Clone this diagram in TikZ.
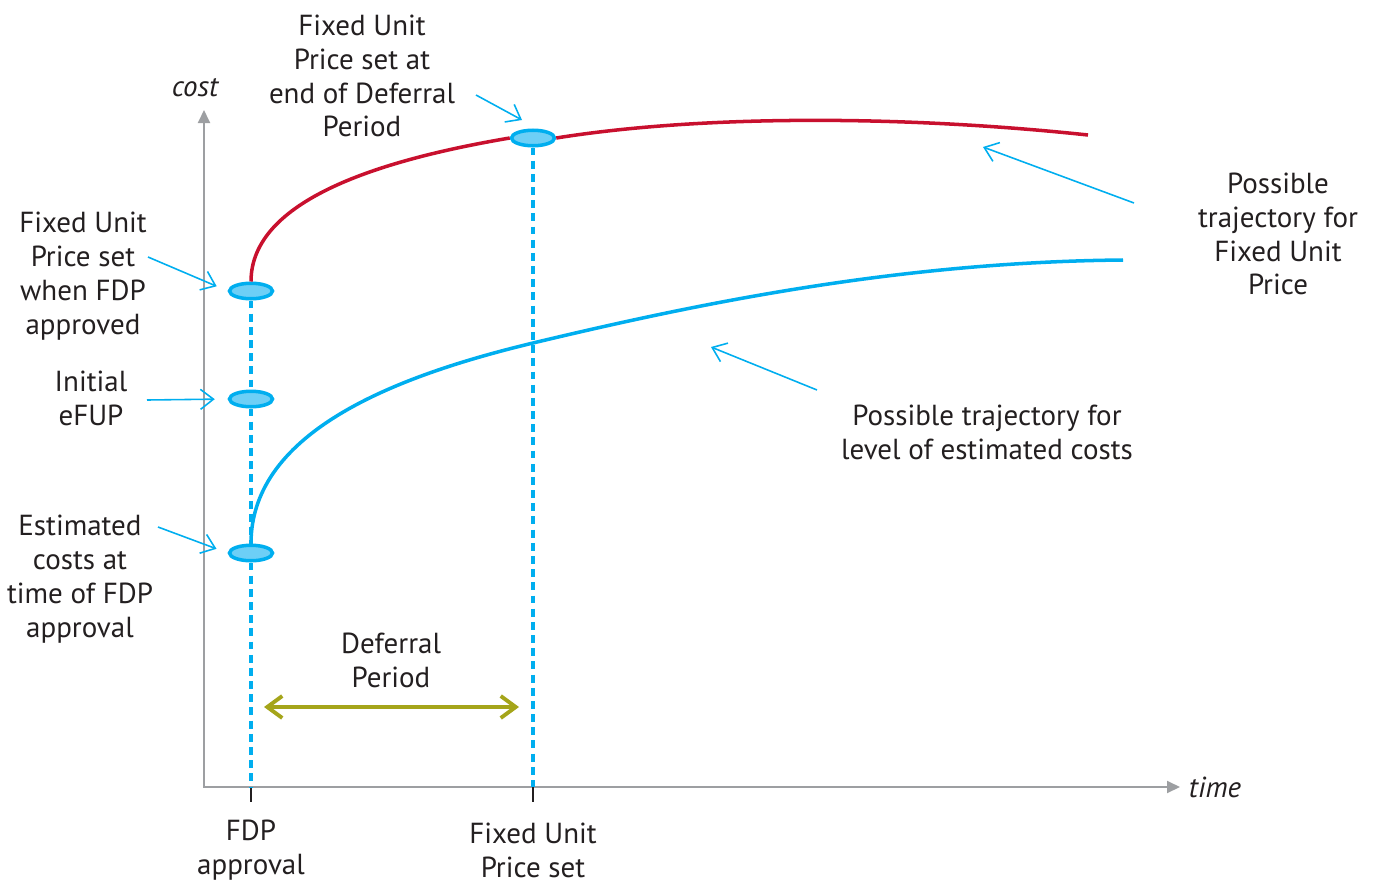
\documentclass[tikz,border=0pt]{standalone}
\usepackage{fontspec}
\setmainfont{PT Sans}
\usetikzlibrary{arrows.meta, shapes.geometric}

\definecolor{cyanline}{HTML}{00AEEF}
\definecolor{dotfill}{HTML}{6DCFF6}
\definecolor{redline}{HTML}{C8102E}
\definecolor{periodgreen}{HTML}{A5A51A}
\definecolor{axisgray}{HTML}{9D9FA2}
\definecolor{textgray}{HTML}{231F20}

\tikzset{
  txt/.style={align=center, text=textgray},
  dot/.style={ellipse, draw=cyanline, fill=dotfill, line width=2pt,
    minimum width=0.86cm, minimum height=0.31cm, inner sep=0},
  guide/.style={draw=cyanline, line width=2pt, dash pattern=on 4.5pt off 3pt},
  pointer/.style={draw=cyanline, line width=0.9pt,
    -{Straight Barb[length=0.26cm, width=0.4cm]}},
  axis/.style={draw=axisgray, line width=1.1pt,
    {Triangle[length=0.26cm, width=0.24cm]}-{Triangle[length=0.26cm, width=0.24cm]}},
  trend/.style={line width=2pt}
}

\begin{document}
\begin{tikzpicture}[x=0.02cm, y=-0.02cm, font=\fontsize{16.5}{19.3}\selectfont]
  \useasboundingbox (0,0) rectangle (1377,883);

  % axes
  \coordinate (origin) at (204,787);
  \coordinate (ytop) at (204,110);
  \coordinate (xend) at (1180,787);
  \draw[axis] (ytop) -- (origin) -- (xend);
  \node[txt, font=\fontsize{16.5}{19.3}\selectfont\itshape] (costlbl) at (195,88) {cost};
  \node[txt, font=\fontsize{16.5}{19.3}\selectfont\itshape] (timelbl) at (1215,787) {time};

  % ticks
  \coordinate (fdptick) at (251,787);
  \coordinate (fuptick) at (533,787);
  \draw[textgray, line width=0.8pt] (fdptick) -- ++(0,15);
  \draw[textgray, line width=0.8pt] (fuptick) -- ++(0,15);
  \node[txt] (fdpax) at (251,850) {FDP\\approval};
  \node[txt] (fupax) at (533,850) {Fixed Unit\\Price set};

  % points
  \node[dot] (fdpfup) at (251,291) {};
  \node[dot] (efup) at (251,399) {};
  \node[dot] (estcost) at (251,553) {};
  \node[dot] (endfup) at (533,138) {};

  \draw[guide] (fdpfup.south) -- (efup.north);
  \draw[guide] (efup.south) -- (estcost.north);
  \draw[guide] (estcost.south) -- (fdptick);
  \draw[guide] (endfup.south) -- (fuptick);

  % trajectories
  \coordinate (redend) at (1088,135);
  \coordinate (blueend) at (1123,260);
  \draw[trend, redline] (fdpfup.north) .. controls (251,200) and (380,160) .. (endfup.west);
  \draw[trend, redline] (endfup.east) .. controls (700,115) and (900,115) .. (redend);
  \draw[trend, cyanline] (estcost.north) .. controls (251,430) and (400,375) .. (533,343)
    .. controls (700,303) and (900,262) .. (blueend);

  % deferral period
  \coordinate (defl) at (264,707);
  \coordinate (defr) at (519,707);
  \draw[periodgreen, line width=2.2pt,
    {Straight Barb[length=0.3cm, width=0.44cm]}-{Straight Barb[length=0.3cm, width=0.44cm]}] (defl) -- (defr);
  \node[txt] (deflbl) at (391,660) {Deferral\\Period};

  % labels on the left
  \node[txt] (fdplbl) at (83,276) {Fixed Unit\\Price set\\when FDP\\approved};
  \node[txt] (initlbl) at (91,398) {Initial\\eFUP};
  \node[txt] (estlbl) at (80,579) {Estimated\\costs at\\time of FDP\\approval};
  \coordinate (fdptail) at (148,257);
  \coordinate (inittail) at (147,400);
  \coordinate (esttail) at (158,527);
  \draw[pointer, shorten >=0.24cm] (fdptail) -- (fdpfup.west);
  \draw[pointer, shorten >=0.26cm] (inittail) -- (efup.west);
  \draw[pointer, shorten >=0.24cm] (esttail) -- (estcost.west);

  % labels on the top and right
  \node[txt] (endlbl) at (362,76) {Fixed Unit\\Price set at\\end of Deferral\\Period};
  \coordinate (endtail) at (476,95);
  \coordinate (endhead) at (522,120);
  \draw[pointer] (endtail) -- (endhead);

  \node[txt] (redlbl) at (1278,234) {Possible\\trajectory for\\Fixed Unit\\Price};
  \coordinate (redtail) at (1134,203);
  \coordinate (redhead) at (983,147);
  \draw[pointer] (redtail) -- (redhead);

  \node[txt] (bluelbl) at (987,432) {Possible trajectory for\\level of estimated costs};
  \coordinate (bluetail) at (817,390);
  \coordinate (bluehead) at (711,347);
  \draw[pointer] (bluetail) -- (bluehead);
\end{tikzpicture}
\end{document}
